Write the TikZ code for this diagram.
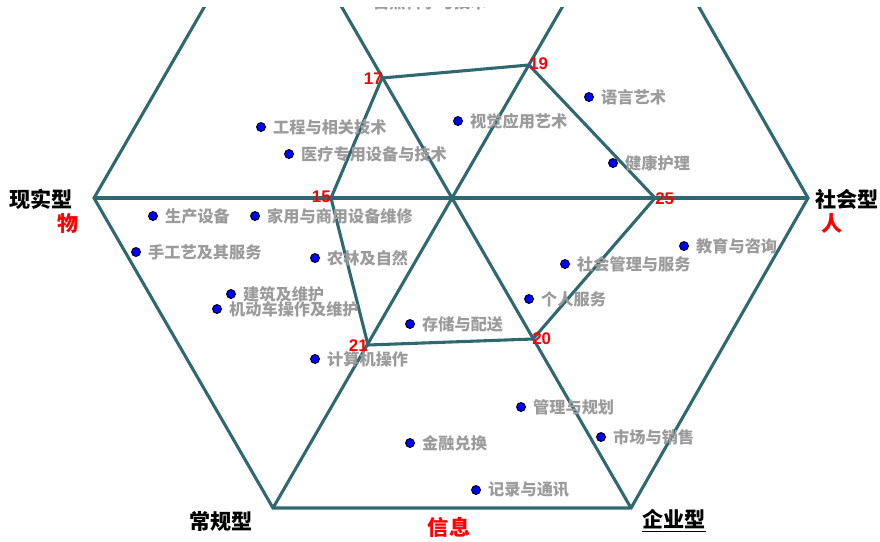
\documentclass[tikz,border=0pt]{standalone}
\usepackage{fontspec}
\setmainfont{Liberation Sans}
\newfontfamily\cjk{Noto Sans CJK SC}
\usetikzlibrary{positioning}
\definecolor{hexline}{RGB}{47,104,112}
\definecolor{jobgray}{RGB}{155,155,155}

\begin{document}
\begin{tikzpicture}[
    x=0.025cm, y=-0.025cm,
    hexedge/.style={hexline, line width=2.2pt, line join=miter},
    jobdot/.style={circle, fill=blue, draw=black, line width=0.6pt, minimum size=6.4pt, inner sep=0pt},
    joblabel/.style={font=\cjk\bfseries\fontsize{11.5}{13}\selectfont, text=jobgray, inner sep=1pt},
    typelabel/.style={font=\cjk\bfseries\fontsize{15}{17}\selectfont, inner sep=0pt},
    scorelabel/.style={font=\bfseries\fontsize{12}{13}\selectfont, text=red, inner sep=0pt}
]
\useasboundingbox (0,0) rectangle (880,541);
\clip (0,7) rectangle (880,541);

% === HEXAGON ===
\coordinate (L) at (94,198);
\coordinate (R) at (808,198);
\coordinate (BL) at (273,508);
\coordinate (BR) at (631,508);
\coordinate (TL) at (273,-112);
\coordinate (TR) at (631,-112);

\draw[hexedge] (TL) -- (L) -- (BL) -- (BR) -- (R) -- (TR) -- cycle;
\draw[hexedge] (L) -- (R);
\draw[hexedge] (BL) -- (TR);
\draw[hexedge] (BR) -- (TL);

% === SCORE PROFILE ===
\coordinate (s15) at (331,198);
\coordinate (s17) at (382,78);
\coordinate (s19) at (529,65);
\coordinate (s25) at (655,198);
\coordinate (s20) at (533,339);
\coordinate (s21) at (368,345);
\draw[hexedge] (s15) -- (s17) -- (s19) -- (s25) -- (s20) -- (s21) -- cycle;

\node[scorelabel, anchor=east] (n15) at (331,197) {15};
\node[scorelabel, anchor=east] (n17) at (383,79) {17};
\node[scorelabel, anchor=west] (n19) at (529,64) {19};
\node[scorelabel, anchor=west] (n25) at (655,199) {25};
\node[scorelabel, anchor=west] (n20) at (532,339) {20};
\node[scorelabel, anchor=east] (n21) at (368,346) {21};

% === CAREER AREAS ===
\foreach \nm/\x/\y/\txt in {
    nat/361/2/自然科学与技术,
    eng/261/127/工程与相关技术,
    med/289/154/医疗专用设备与技术,
    vis/458/121/视觉应用艺术,
    lang/589/97/语言艺术,
    care/613/163/健康护理,
    prod/153/216/生产设备,
    repair/255/216/家用与商用设备维修,
    craft/136/252/手工艺及其服务,
    agri/315/258/农林及自然,
    build/231/294/建筑及维护,
    veh/217/309/机动车操作及维护,
    dist/410/324/存储与配送,
    comp/315/359/计算机操作,
    edu/684/246/教育与咨询,
    comm/565/264/社会管理与服务,
    pers/529/299/个人服务,
    mgmt/521/407/管理与规划,
    fin/410/443/金融兑换,
    rec/476/490/记录与通讯,
    mkt/601/437/市场与销售} {
    \node[jobdot] (dot-\nm) at (\x,\y) {};
    \node[joblabel, right=4pt of dot-\nm] (lab-\nm) {\txt};
}

% === TYPE LABELS ===
\node[typelabel] (real) at (41,199) {现实型};
\node[typelabel, text=red] (things) at (68,223) {物};
\node[typelabel] (social) at (847,199) {社会型};
\node[typelabel, text=red] (people) at (832,223) {人};
\node[typelabel] (conv) at (221,521) {常规型};
\node[typelabel, text=red] (data) at (449,527) {信息};
\node[typelabel] (ent) at (674,521) {\underline{企业型}};

\end{tikzpicture}
\end{document}
